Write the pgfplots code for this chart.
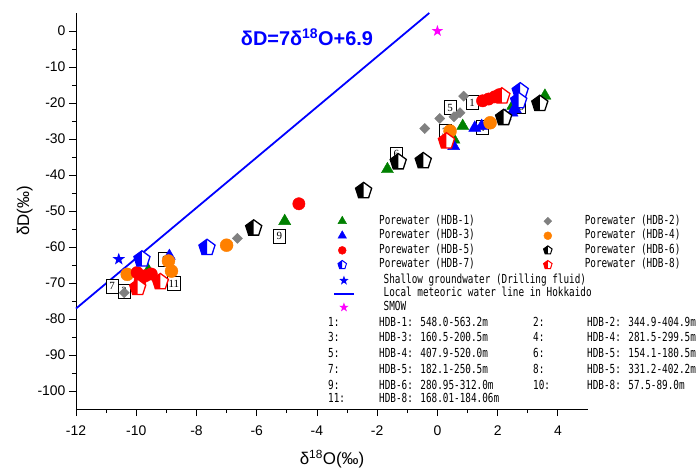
\documentclass[border=0pt]{standalone}
\usepackage{fontspec}
\setmainfont{Liberation Sans}
\newfontfamily\jmono[FakeStretch=0.75]{DejaVu Sans Mono}
\newfontfamily\serifnum{Liberation Serif}
\usepackage{pgfplots}
\pgfplotsset{compat=1.18}

% pentagon, left half filled, right half white
\pgfdeclareplotmark{halfpent}{%
  \begin{pgfscope}
    \pgfsetfillcolor{white}
    \pgfpathmoveto{\pgfqpointpolar{90}{\pgfplotmarksize}}
    \pgfpathlineto{\pgfqpointpolar{162}{\pgfplotmarksize}}
    \pgfpathlineto{\pgfqpointpolar{234}{\pgfplotmarksize}}
    \pgfpathlineto{\pgfqpointpolar{306}{\pgfplotmarksize}}
    \pgfpathlineto{\pgfqpointpolar{18}{\pgfplotmarksize}}
    \pgfpathclose
    \pgfusepathqfill
  \end{pgfscope}
  \pgfpathmoveto{\pgfqpointpolar{90}{\pgfplotmarksize}}
  \pgfpathlineto{\pgfqpointpolar{162}{\pgfplotmarksize}}
  \pgfpathlineto{\pgfqpointpolar{234}{\pgfplotmarksize}}
  \pgfpathlineto{\pgfqpoint{0pt}{-0.809\pgfplotmarksize}}
  \pgfpathclose
  \pgfusepathqfill
  \pgfpathmoveto{\pgfqpointpolar{90}{\pgfplotmarksize}}
  \pgfpathlineto{\pgfqpointpolar{162}{\pgfplotmarksize}}
  \pgfpathlineto{\pgfqpointpolar{234}{\pgfplotmarksize}}
  \pgfpathlineto{\pgfqpointpolar{306}{\pgfplotmarksize}}
  \pgfpathlineto{\pgfqpointpolar{18}{\pgfplotmarksize}}
  \pgfpathclose
  \pgfusepathqstroke
}
% filled five-pointed star
\pgfdeclareplotmark{fstar}{%
  \pgfpathmoveto{\pgfqpointpolar{90}{\pgfplotmarksize}}
  \pgfpathlineto{\pgfqpointpolar{126}{0.4\pgfplotmarksize}}
  \pgfpathlineto{\pgfqpointpolar{162}{\pgfplotmarksize}}
  \pgfpathlineto{\pgfqpointpolar{198}{0.4\pgfplotmarksize}}
  \pgfpathlineto{\pgfqpointpolar{234}{\pgfplotmarksize}}
  \pgfpathlineto{\pgfqpointpolar{270}{0.4\pgfplotmarksize}}
  \pgfpathlineto{\pgfqpointpolar{306}{\pgfplotmarksize}}
  \pgfpathlineto{\pgfqpointpolar{342}{0.4\pgfplotmarksize}}
  \pgfpathlineto{\pgfqpointpolar{18}{\pgfplotmarksize}}
  \pgfpathlineto{\pgfqpointpolar{54}{0.4\pgfplotmarksize}}
  \pgfpathclose
  \pgfusepathqfill
}

\definecolor{dgreen}{RGB}{0,128,0}
\definecolor{dorange}{RGB}{255,128,0}
\definecolor{dgray}{RGB}{128,128,128}
\definecolor{smow}{RGB}{255,0,255}

\newcommand\legbox{\pgfpathrectangle{\pgfpoint{0bp}{-4bp}}{\pgfpoint{17bp}{8bp}}\pgfusepath{}}

\pgfplotsset{
  legimg/.style={legend image code/.code={%
    \legbox
    \draw[##1] plot coordinates {(8.5bp,0bp)};}},
  legfont/.style={legend style={draw=none, fill=none, inner sep=0pt,
    font=\jmono\fontsize{12.5}{14}\selectfont,
    nodes={inner sep=0pt, text height=9bp, text depth=3bp},
    row sep=2.6bp,
    /tikz/every odd column/.append style={column sep=28.5bp},
    /tikz/every even column/.append style={column sep=64.5bp}},
    legend cell align=left},
}

\newcommand\lrow[5]{%
  \node[anchor=base west, inner sep=0pt] at (252bp,#1) {#2};
  \node[anchor=base west, inner sep=0pt] at (303bp,#1) {#3};
  \node[anchor=base west, inner sep=0pt] at (457bp,#1) {#4};
  \node[anchor=base west, inner sep=0pt] at (511bp,#1) {#5};
}

\begin{document}
\begin{tikzpicture}
\path[use as bounding box] (-76bp,-66bp) rectangle (623bp,409bp);
\begin{axis}[
  at={(0,0)}, anchor=south west,
  scale only axis, width=512bp, height=396bp,
  xmin=-12, xmax=5, ymin=-105, ymax=5,
  xtick={-12,-10,...,4}, ytick={-100,-90,...,0},
  minor x tick num=1, minor y tick num=1,
  axis x line*=bottom, axis y line*=left,
  tick align=outside,
  major tick length=7bp, minor tick length=4bp,
  every tick/.style={black, line width=0.8bp},
  axis line style={line width=0.9bp},
  tick label style={font=\fontsize{14}{16}\selectfont},
  xticklabel style={yshift=-6bp},
  /pgf/number format/assume math mode=true,
  xlabel={δ\textsuperscript{18}O(‰)},
  ylabel={δD(‰)},
  label style={font=\fontsize{17}{19}\selectfont},
  xlabel style={yshift=-8bp},
  ylabel style={yshift=-2bp},
  clip=false,
  legimg, legfont, legend columns=2,
  legend style={at={(axis description cs:0.503,0.49)}, anchor=north west},
]
% line
\addplot[blue, line width=1.8bp, forget plot] coordinates {(-12,-77.1) (-0.27,5)};
\node[text=blue, font=\bfseries\fontsize{20}{20}\selectfont] at (axis cs:-4.33,-1.7) {δD=7δ\textsuperscript{18}O+6.9};

% sample-interval boxes
\begin{scope}[every node/.style={draw, fill=white, line width=0.7bp, inner sep=1.2bp,
  minimum width=12bp, minimum height=14bp, font=\serifnum\fontsize{11}{11}\selectfont}]
\node at (axis cs:1.15,-19.9) {1};
\node at (axis cs:-10.4,-72.2) {2};
\node at (axis cs:0.25,-28) {3};
\node at (axis cs:1.48,-26.8) {4};
\node at (axis cs:0.42,-21.3) {5};
\node at (axis cs:-1.36,-34.2) {6};
\node at (axis cs:-10.8,-70.8) {7};
\node at (axis cs:-9.05,-63.5) {8};
\node at (axis cs:-5.25,-57) {9};
\node at (axis cs:2.7,-21) {10};
\node at (axis cs:-8.75,-70.2) {11};
\end{scope}

% HDB-1
\addplot[only marks, forget plot, mark=triangle*, mark size=7, mark options={draw=dgreen, fill=dgreen}]
coordinates {(3.57,-18.0) (2.5,-20.8) (0.84,-26.4) (0.55,-30.2) (-1.66,-38.4) (-5.07,-52.8) (-9.6,-66.5)};
% HDB-2
\addplot[only marks, forget plot, mark=square*, mark size=3.6, mark options={rotate=45, draw=dgray, fill=dgray}]
coordinates {(0.87,-18.1) (0.75,-22.7) (0.55,-23.8) (0.08,-24.3) (-0.42,-27.1) (-6.64,-57.6) (-10.4,-72.7)};
% HDB-3
\addplot[only marks, forget plot, mark=triangle*, mark size=7, mark options={draw=blue, fill=blue}]
coordinates {(1.24,-26.9) (1.47,-26.4) (2.48,-22.7) (2.59,-21.8) (2.25,-23.6) (0.54,-32) (-8.9,-62.5)};
% HDB-4
\addplot[only marks, forget plot, mark=*, mark size=6.5, mark options={draw=dorange, fill=dorange}]
coordinates {(1.75,-25.5) (0.42,-27.8) (-7.0,-59.5) (-8.93,-63.9) (-8.83,-66.7) (-10.3,-67.6)};
% HDB-5
\addplot[only marks, forget plot, mark=*, mark size=6.2, mark options={draw=red, fill=red}]
coordinates {(1.5,-19.4) (1.7,-18.9) (1.9,-18.3) (2.05,-17.7) (-4.6,-48) (-9.97,-67.1) (-9.7,-68) (-9.87,-69.4) (-9.5,-67.5)};
% HDB-6
\addplot[only marks, forget plot, mark=halfpent, mark size=8.5, mark options={draw=black, fill=black, line width=1.3bp}]
coordinates {(3.4,-20.2) (2.2,-24.1) (-0.47,-36.1) (-1.3,-36.4) (-2.45,-44.4) (-6.1,-54.8)};
% HDB-7
\addplot[only marks, forget plot, mark=halfpent, mark size=8.5, mark options={draw=blue, fill=blue, line width=1.3bp}]
coordinates {(2.75,-16.7) (2.7,-19.4) (-7.65,-60.2) (-9.81,-63.4)};
% HDB-8
\addplot[only marks, forget plot, mark=halfpent, mark size=8.5, mark options={draw=red, fill=red, line width=1.3bp}]
coordinates {(2.14,-18.1) (0.3,-30.6) (-9.95,-71.3) (-9.2,-69.7)};
% shallow groundwater
\addplot[only marks, forget plot, mark=fstar, mark size=6.5, mark options={draw=blue, fill=blue}]
coordinates {(-10.58,-63.4)};
% SMOW
\addplot[only marks, forget plot, mark=fstar, mark size=6, mark options={draw=smow, fill=smow}]
coordinates {(0,0)};

\addlegendimage{only marks, mark=triangle*, mark size=5, mark options={draw=dgreen, fill=dgreen}}
\addlegendentry{Porewater (HDB-1)}
\addlegendimage{only marks, mark=square*, mark size=2.8, mark options={rotate=45, draw=dgray, fill=dgray}}
\addlegendentry{Porewater (HDB-2)}
\addlegendimage{only marks, mark=triangle*, mark size=5, mark options={draw=blue, fill=blue}}
\addlegendentry{Porewater (HDB-3)}
\addlegendimage{only marks, mark=*, mark size=4, mark options={draw=dorange, fill=dorange}}
\addlegendentry{Porewater (HDB-4)}
\addlegendimage{only marks, mark=*, mark size=4, mark options={draw=red, fill=red}}
\addlegendentry{Porewater (HDB-5)}
\addlegendimage{only marks, mark=halfpent, mark size=4.5, mark options={draw=black, fill=black, line width=1bp}}
\addlegendentry{Porewater (HDB-6)}
\addlegendimage{only marks, mark=halfpent, mark size=4.5, mark options={draw=blue, fill=blue, line width=1bp}}
\addlegendentry{Porewater (HDB-7)}
\addlegendimage{only marks, mark=halfpent, mark size=4.5, mark options={draw=red, fill=red, line width=1bp}}
\addlegendentry{Porewater (HDB-8)}
\end{axis}

% second legend
\begin{axis}[
  at={(0,0)}, anchor=south west,
  scale only axis, width=512bp, height=396bp,
  xmin=-12, xmax=5, ymin=-105, ymax=5, hide axis,
  legimg, legfont, legend columns=1,
  legend style={at={(axis description cs:0.503,0.34)}, anchor=north west, row sep=1.4bp},
]
\addlegendimage{only marks, mark=fstar, mark size=5, mark options={draw=blue, fill=blue}}
\addlegendentry{Shallow groundwater (Drilling fluid)}
\addlegendimage{legend image code/.code={\legbox
  \draw[blue, line width=1.4bp] (-1bp,0bp) -- (19bp,0bp);}}
\addlegendentry{Local meteoric water line in Hokkaido}
\addlegendimage{only marks, mark=fstar, mark size=5, mark options={draw=smow, fill=smow}}
\addlegendentry{SMOW}
\end{axis}

\begin{scope}[font=\jmono\fontsize{12.5}{14}\selectfont]
\lrow{82bp}{1:}{HDB-1: 548.0-563.2m}{2:}{HDB-2: 344.9-404.9m}
\lrow{67bp}{3:}{HDB-3: 160.5-200.5m}{4:}{HDB-4: 281.5-299.5m}
\lrow{51bp}{5:}{HDB-4: 407.9-520.0m}{6:}{HDB-5: 154.1-180.5m}
\lrow{36bp}{7:}{HDB-5: 182.1-250.5m}{8:}{HDB-5: 331.2-402.2m}
\lrow{20bp}{9:}{HDB-6: 280.95-312.0m}{10:}{HDB-8: 57.5-89.0m}
\lrow{7bp}{11:}{HDB-8: 168.01-184.06m}{}{}
\end{scope}
\end{tikzpicture}
\end{document}
